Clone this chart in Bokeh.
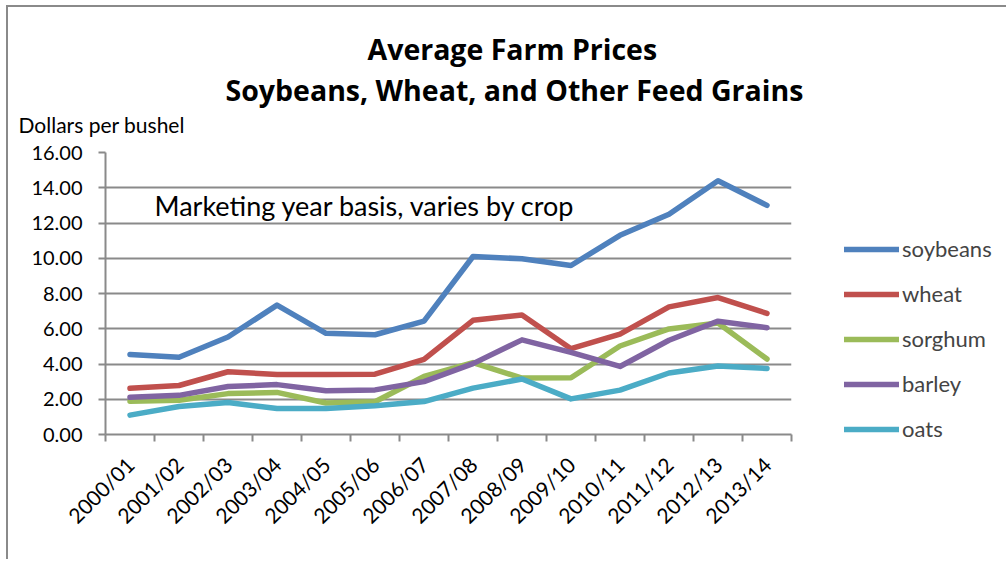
import math
from bokeh.plotting import figure
from bokeh.models import (Range1d, FixedTicker, NumeralTickFormatter, Label,
                          Legend, LegendItem, Title)
from bokeh.embed import file_html
from bokeh.resources import INLINE

years = ["2000/01", "2001/02", "2002/03", "2003/04", "2004/05", "2005/06", "2006/07",
         "2007/08", "2008/09", "2009/10", "2010/11", "2011/12", "2012/13", "2013/14"]
soybeans = [4.54, 4.38, 5.53, 7.34, 5.74, 5.66, 6.43, 10.10, 9.97, 9.59, 11.30, 12.50, 14.40, 13.00]
wheat = [2.62, 2.78, 3.56, 3.40, 3.40, 3.42, 4.26, 6.48, 6.78, 4.87, 5.70, 7.24, 7.77, 6.87]
sorghum = [1.89, 1.94, 2.32, 2.39, 1.79, 1.86, 3.29, 4.08, 3.20, 3.22, 5.02, 5.99, 6.33, 4.28]
barley = [2.11, 2.22, 2.72, 2.83, 2.48, 2.53, 3.00, 4.02, 5.37, 4.66, 3.86, 5.35, 6.43, 6.06]
oats = [1.10, 1.59, 1.81, 1.48, 1.48, 1.63, 1.87, 2.63, 3.15, 2.02, 2.52, 3.49, 3.89, 3.75]
y_ticks = [0, 2, 4, 6, 8, 10, 12, 14, 16]

series = [("soybeans", soybeans, "#4F81BD"),
          ("wheat", wheat, "#C0504D"),
          ("sorghum", sorghum, "#9BBB59"),
          ("barley", barley, "#8064A2"),
          ("oats", oats, "#4BACC6")]

FONT = "Lato"
TFONT = "Open Sans"
GRAY = "#8a8a8a"

n = len(years)
xs = [i + 0.5 for i in range(n)]

p = figure(frame_width=686, frame_height=282, x_range=Range1d(0, n), y_range=Range1d(0, 16),
           output_backend="svg", toolbar_location=None,
           min_border_left=97, min_border_right=209, min_border_top=145,
           min_border_bottom=125)
try:
    p.title = None
except Exception:
    p.title.visible = False
p.outline_line_color = None
p.background_fill_color = "white"
p.border_fill_color = "white"
p.styles = {"margin-left": "6px", "margin-top": "5px",
            "border-left": "2px solid #8a8a8a", "border-top": "2px solid #8a8a8a"}

# grid
p.xgrid.grid_line_color = None
p.ygrid.grid_line_color = GRAY
p.ygrid.grid_line_width = 2

# y axis
yax = p.yaxis[0]
yax.ticker = FixedTicker(ticks=y_ticks)
yax.formatter = NumeralTickFormatter(format="0.00")
yax.axis_line_color = GRAY
yax.axis_line_width = 2
yax.major_tick_line_color = GRAY
yax.major_tick_line_width = 2
yax.major_tick_out = 7
yax.major_tick_in = 0
yax.minor_tick_line_color = None
yax.major_label_standoff = 16
yax.major_label_text_font = FONT
yax.major_label_text_font_size = "20px"
yax.major_label_text_color = "black"

# x axis
xax = p.xaxis[0]
xax.ticker = FixedTicker(ticks=xs, minor_ticks=list(range(n + 1)))
xax.major_label_overrides = {x: lab for x, lab in zip(xs, years)}
xax.axis_line_color = GRAY
xax.axis_line_width = 2
xax.major_tick_line_color = None
xax.major_tick_out = 0
xax.major_tick_in = 0
xax.minor_tick_line_color = GRAY
xax.minor_tick_line_width = 2
xax.minor_tick_out = 7
xax.minor_tick_in = 0
xax.major_label_orientation = math.pi / 4
xax.major_label_standoff = 19
xax.major_label_text_font = FONT
xax.major_label_text_font_size = "21px"
xax.major_label_text_color = "black"

items = []
for name, vals, color in series:
    r = p.line(xs, vals, line_color=color, line_width=5.5,
               line_cap="round", line_join="round")
    items.append(LegendItem(label=name, renderers=[r]))

legend = Legend(items=items, location=(53, -8), orientation="vertical",
                glyph_width=55, glyph_height=20, label_height=20, spacing=18,
                label_standoff=3, padding=0, margin=0,
                border_line_alpha=0, background_fill_alpha=0,
                label_text_font=FONT, label_text_font_size="22px")
p.add_layout(legend, "right")

# texts above the plot (nearest first)
p.add_layout(Title(text="Dollars per bushel", align="left", offset=-87,
                   text_font=FONT, text_font_style="normal", text_font_size="21px",
                   text_color="black", standoff=31), "above")
p.add_layout(Title(text="Soybeans, Wheat, and Other Feed Grains", align="left",
                   offset=120, text_font=TFONT, text_font_style="bold",
                   text_font_size="28.5px", text_color="black", standoff=-28), "above")
p.add_layout(Title(text="Average Farm Prices", align="left", offset=262,
                   text_font=TFONT, text_font_style="bold", text_font_size="28.5px",
                   text_color="black", standoff=29), "above")

p.add_layout(Label(x=1.0, y=12.98, text="Marketing year basis, varies by crop",
                   text_align="left", text_baseline="alphabetic", text_font=FONT,
                   text_font_size="27px", text_color="black"))

open("out.html", "w").write(file_html(p, INLINE))
